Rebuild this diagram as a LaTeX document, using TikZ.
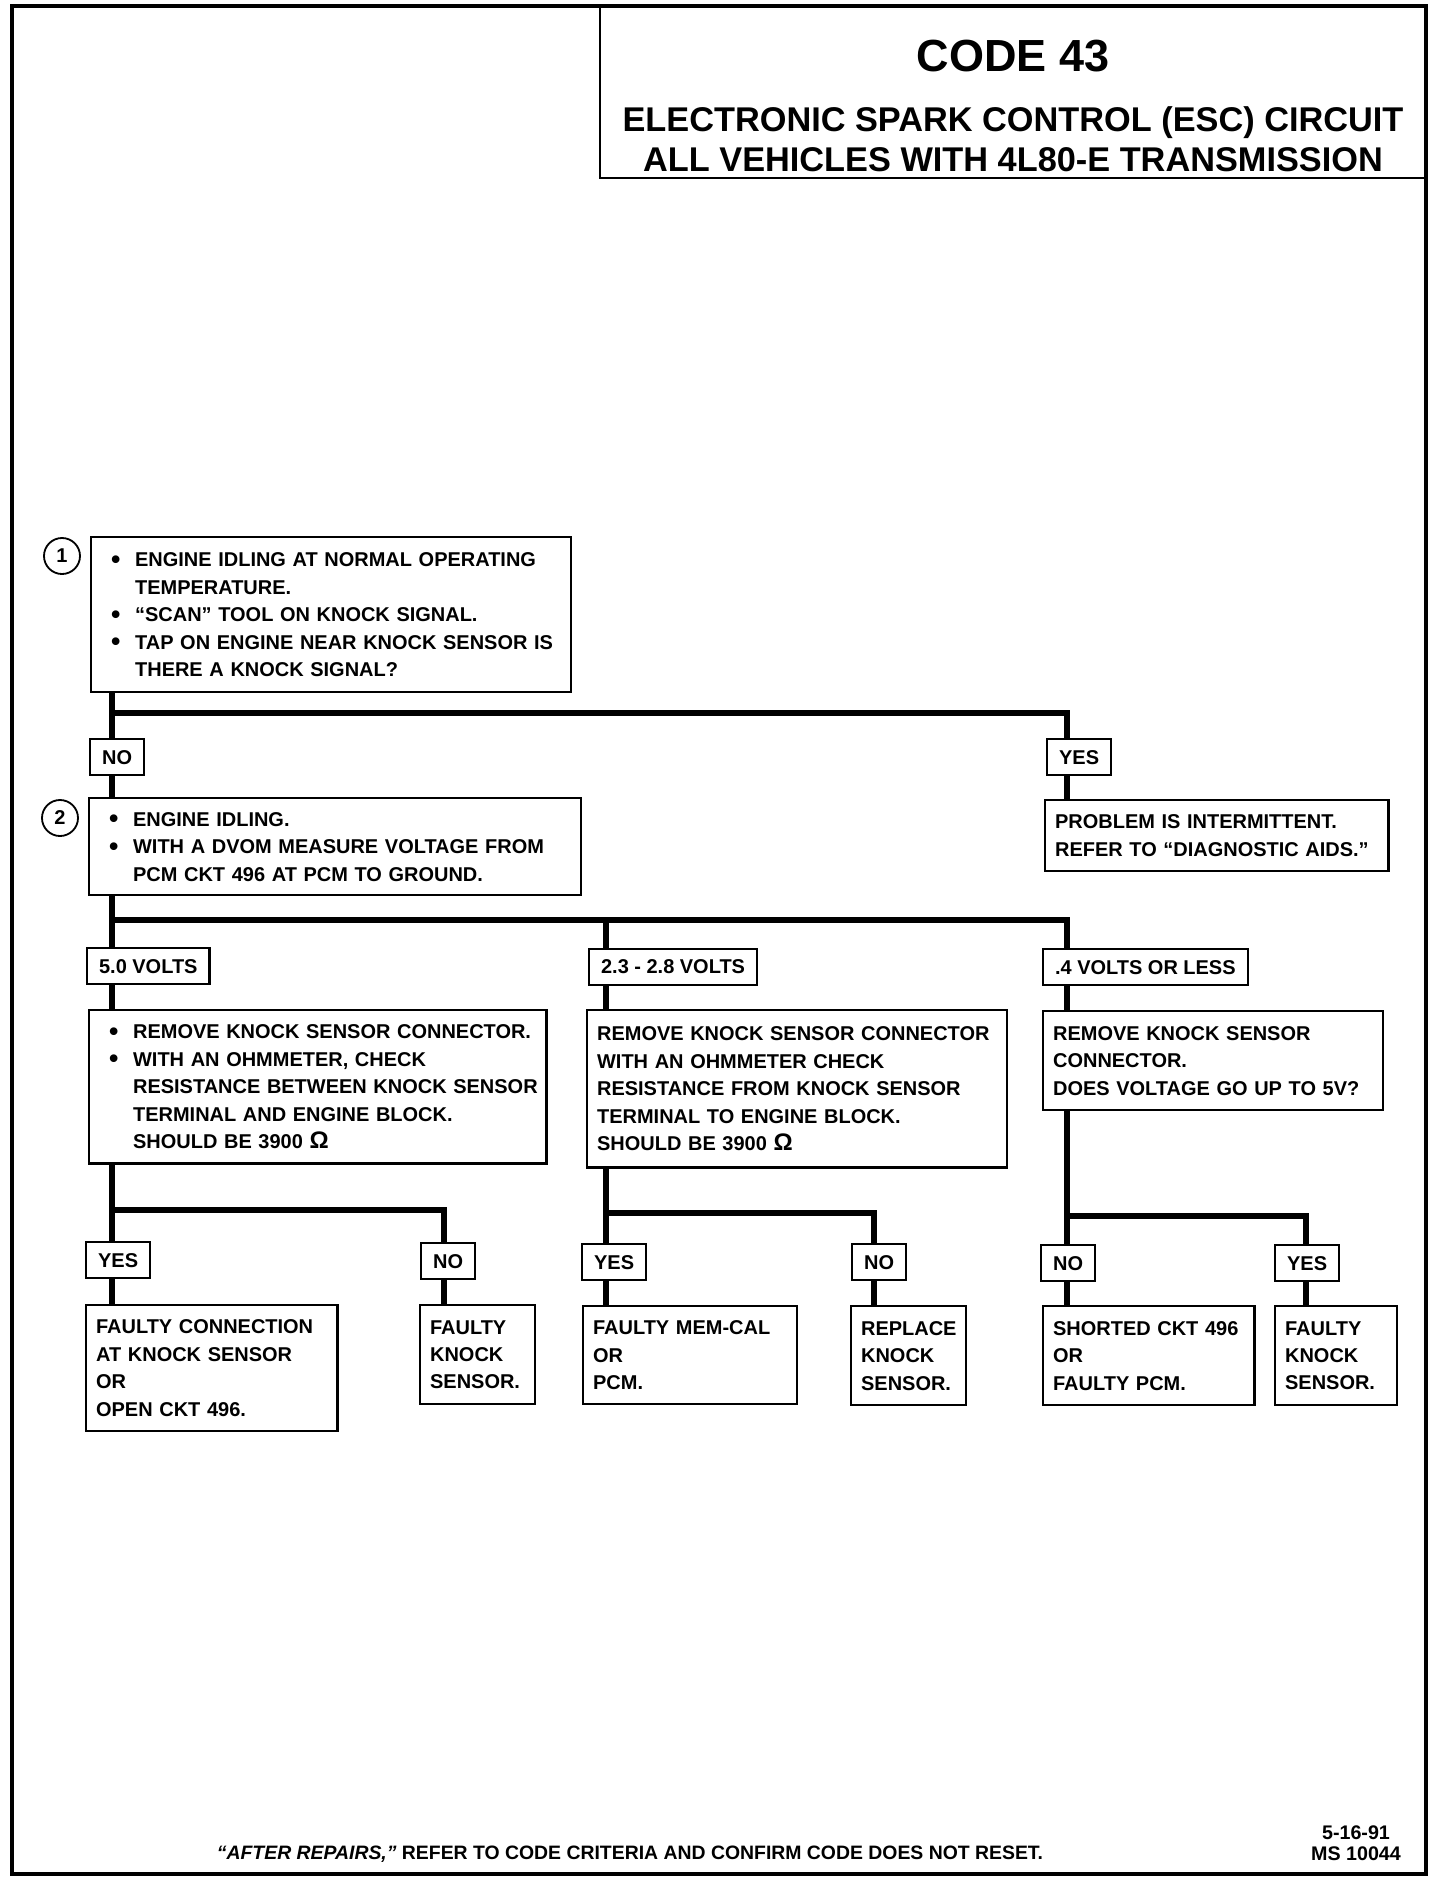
\documentclass[tikz,border=0pt]{standalone}
\usepackage{fontspec}
\setmainfont{Liberation Sans}
\usetikzlibrary{calc}

\hyphenpenalty=10000
\exhyphenpenalty=10000

\newcommand{\bul}[1]{\makebox[0.6cm][l]{\raisebox{-1pt}{\fontsize{19}{19.5}\selectfont\textbullet}}\mbox{#1}}
\newcommand{\cont}[1]{\hspace*{0.6cm}\mbox{#1}}
\newcommand{\ohm}{{\fontsize{17}{19.5}\selectfont Ω}}

\tikzset{
    wire/.style={line width=4.2pt},
    tbox/.style={draw, line width=1.6pt, anchor=north west, align=left,
        inner xsep=0.25cm, inner ysep=0pt,
        font=\fontsize{14.2}{19.5}\selectfont\bfseries},
    bbox/.style={tbox, inner xsep=0.5cm},
    lbl/.style={draw, line width=1.6pt, anchor=north west, inner xsep=0.3cm,
        inner ysep=0pt, minimum height=0.9cm,
        font=\fontsize{14.2}{17}\selectfont\bfseries},
    numcirc/.style={draw, circle, line width=1.3pt, minimum size=0.9cm,
        inner sep=0pt, font=\fontsize{14.2}{17}\selectfont\bfseries},
}

\begin{document}
\begin{tikzpicture}[x=0.025cm, y=-0.025cm]
        \useasboundingbox (0,0) rectangle (1440,1880);
        \draw [line width=2.2pt] (12,6) rectangle (1426,1874);

        % title block
        \draw [line width=1.6pt] (600,6) |- (1426,178);
        \node (code) [anchor=base, font=\fontsize{32}{36}\selectfont\bfseries] at (1013,72) {CODE 43};
        \node (esc) [anchor=base, font=\fontsize{24.4}{28}\selectfont\bfseries] at (1013,131) {ELECTRONIC SPARK CONTROL (ESC) CIRCUIT};
        \node (veh) [anchor=base, font=\fontsize{24.4}{28}\selectfont\bfseries] at (1013,171) {ALL VEHICLES WITH 4L80-E TRANSMISSION};

        % columns and junctions
        \coordinate (colL) at (112,0);
        \coordinate (colM) at (606,0);
        \coordinate (colR) at (1067,0);
        \coordinate (colNa) at (444,0);
        \coordinate (colNb) at (874,0);
        \coordinate (colYc) at (1306,0);
        \coordinate (jA) at (112,713);
        \coordinate (jB) at (112,920);
        \coordinate (jC) at (112,1210);
        \coordinate (jD) at (606,1213);
        \coordinate (jE) at (1067,1216);

        % step 1
        \node (c1) [numcirc] at (62,556) {1};
        \node (q1) [bbox, text width=11.0cm, minimum height=3.88cm] at (90,536) {%
            \bul{ENGINE IDLING AT NORMAL OPERATING}\\
            \cont{TEMPERATURE.}\\
            \bul{“SCAN” TOOL ON KNOCK SIGNAL.}\\
            \bul{TAP ON ENGINE NEAR KNOCK SENSOR IS}\\
            \cont{THERE A KNOCK SIGNAL?}};

        \node (no1) [lbl] at (89,738) {NO};
        \node (yes1) [lbl] at (1046,738) {YES};

        % step 2
        \node (c2) [numcirc] at (60,818) {2};
        \node (q2) [bbox, text width=11.3cm, minimum height=2.43cm] at (88,797) {%
            \bul{ENGINE IDLING.}\\
            \bul{WITH A DVOM MEASURE VOLTAGE FROM}\\
            \cont{PCM CKT 496 AT PCM TO GROUND.}};
        \node (prob) [tbox, text width=8.08cm, minimum height=1.78cm] at (1044,799) {%
            PROBLEM IS INTERMITTENT.\\
            REFER TO “DIAGNOSTIC AIDS.”};

        \node (v50) [lbl] at (86,947) {5.0 VOLTS};
        \node (v23) [lbl] at (588,948) {2.3 - 2.8 VOLTS};
        \node (v04) [lbl] at (1042,948) {.4 VOLTS OR LESS};

        % step 3
        \node (q3a) [bbox, text width=10.43cm, minimum height=3.83cm] at (88,1009) {%
            \bul{REMOVE KNOCK SENSOR CONNECTOR.}\\
            \bul{WITH AN OHMMETER, CHECK}\\
            \cont{RESISTANCE BETWEEN KNOCK SENSOR}\\
            \cont{TERMINAL AND ENGINE BLOCK.}\\
            \cont{SHOULD BE 3900 \ohm}};
        \node (q3b) [tbox, text width=10.0cm, minimum height=3.93cm] at (586,1009) {%
            REMOVE KNOCK SENSOR CONNECTOR\\
            WITH AN OHMMETER CHECK\\
            RESISTANCE FROM KNOCK SENSOR\\
            TERMINAL TO ENGINE BLOCK.\\
            SHOULD BE 3900 \ohm};
        \node (q3c) [tbox, text width=8.0cm, minimum height=2.48cm] at (1042,1010) {%
            REMOVE KNOCK SENSOR\\
            CONNECTOR.\\
            DOES VOLTAGE GO UP TO 5V?};

        \node (yesA) [lbl] at (85,1241) {YES};
        \node (noA) [lbl] at (420,1242) {NO};
        \node (yesB) [lbl] at (581,1243) {YES};
        \node (noB) [lbl] at (851,1243) {NO};
        \node (noC) [lbl] at (1040,1244) {NO};
        \node (yesC) [lbl] at (1274,1244) {YES};

        % results
        \node (ra) [tbox, text width=5.78cm, minimum height=3.15cm] at (85,1304) {%
            FAULTY CONNECTION\\ AT KNOCK SENSOR\\ OR\\ OPEN CKT 496.};
        \node (rb) [tbox, text width=2.38cm, minimum height=2.48cm] at (419,1304) {%
            FAULTY\\ KNOCK\\ SENSOR.};
        \node (rc) [tbox, text width=4.85cm, minimum height=2.45cm] at (582,1305) {%
            FAULTY MEM-CAL\\ OR\\ PCM.};
        \node (rd) [tbox, text width=2.38cm, minimum height=2.48cm] at (850,1305) {%
            REPLACE\\ KNOCK\\ SENSOR.};
        \node (re) [tbox, text width=4.78cm, minimum height=2.48cm] at (1042,1305) {%
            SHORTED CKT 496\\ OR\\ FAULTY PCM.};
        \node (rf) [tbox, text width=2.55cm, minimum height=2.48cm] at (1274,1305) {%
            FAULTY\\ KNOCK\\ SENSOR.};

        % connectors
        \draw [wire] (q1.south -| colL) -- (no1.north -| colL);
        \draw [wire] (jA) -| (yes1.north -| colR);
        \draw [wire] (no1.south -| colL) -- (q2.north -| colL);
        \draw [wire] (yes1.south -| colR) -- (prob.north -| colR);

        \draw [wire] (q2.south -| colL) -- (v50.north -| colL);
        \draw [wire] (jB) -| (v04.north -| colR);
        \draw [wire] (jB -| colM) -- (v23.north -| colM);
        \draw [wire] (v50.south -| colL) -- (q3a.north -| colL);
        \draw [wire] (v23.south -| colM) -- (q3b.north -| colM);
        \draw [wire] (v04.south -| colR) -- (q3c.north -| colR);

        \draw [wire] (q3a.south -| colL) -- (yesA.north -| colL);
        \draw [wire] (jC) -| (noA.north -| colNa);
        \draw [wire] (yesA.south -| colL) -- (ra.north -| colL);
        \draw [wire] (noA.south -| colNa) -- (rb.north -| colNa);

        \draw [wire] (q3b.south -| colM) -- (yesB.north -| colM);
        \draw [wire] (jD) -| (noB.north -| colNb);
        \draw [wire] (yesB.south -| colM) -- (rc.north -| colM);
        \draw [wire] (noB.south -| colNb) -- (rd.north -| colNb);

        \draw [wire] (q3c.south -| colR) -- (noC.north -| colR);
        \draw [wire] (jE) -| (yesC.north -| colYc);
        \draw [wire] (noC.south -| colR) -- (re.north -| colR);
        \draw [wire] (yesC.south -| colYc) -- (rf.north -| colYc);

        % footer
        \node (after) [anchor=base, font=\fontsize{13.8}{16}\selectfont\bfseries] at (630,1859)
            {\textit{“AFTER REPAIRS,”} REFER TO CODE CRITERIA AND CONFIRM CODE DOES NOT RESET.};
        \node (date) [anchor=base, font=\fontsize{14}{16}\selectfont\bfseries] at (1356,1839) {5-16-91};
        \node (msno) [anchor=base, font=\fontsize{14}{16}\selectfont\bfseries] at (1356,1860) {MS 10044};
\end{tikzpicture}
\end{document}
